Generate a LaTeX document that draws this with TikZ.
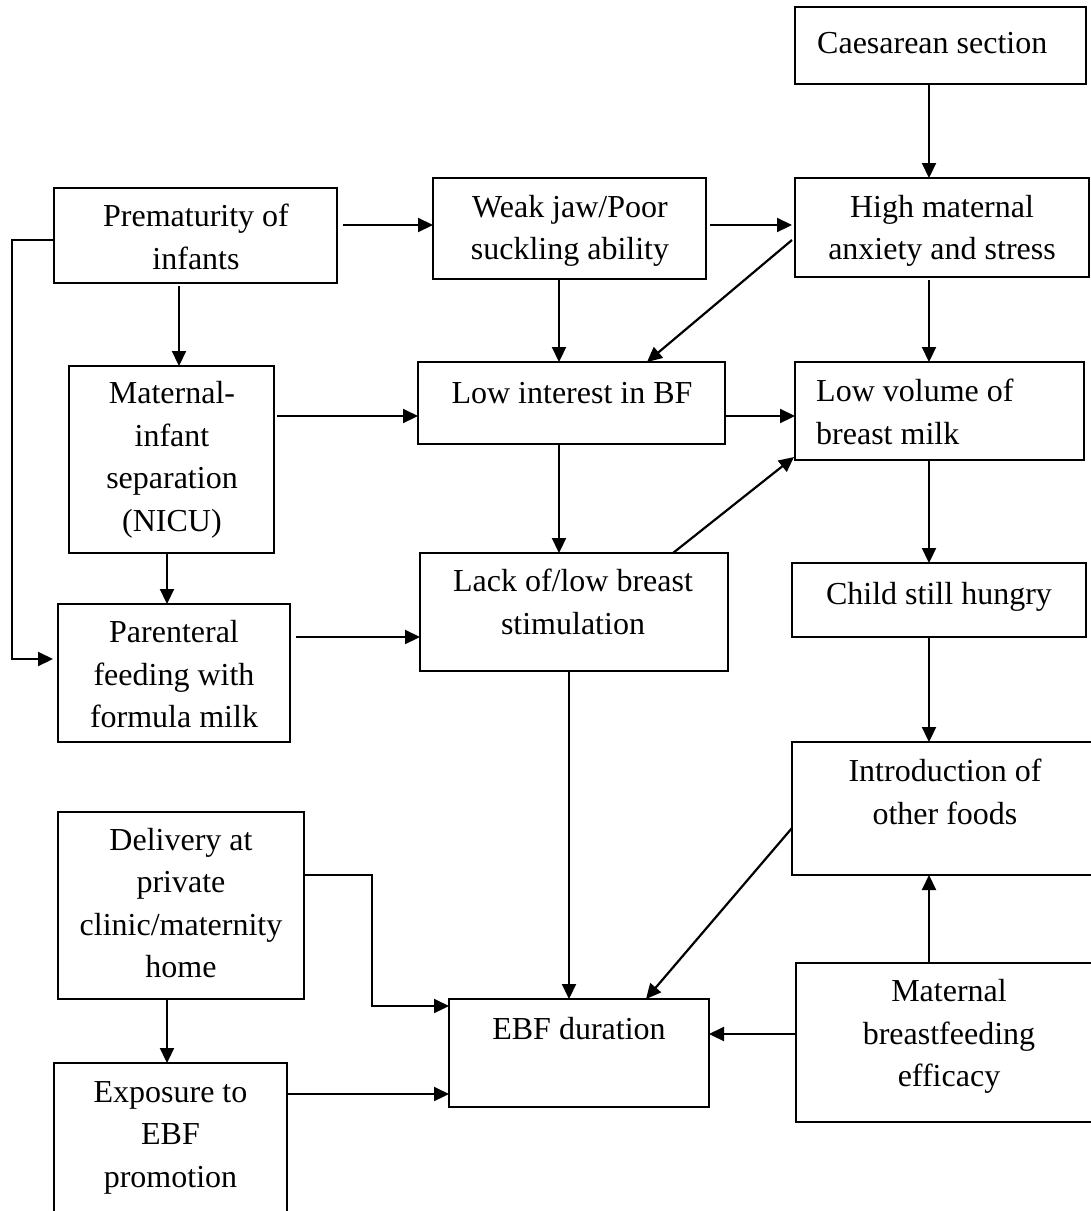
\documentclass[tikz,border=0pt]{standalone}
\usepackage{fontspec}
\setmainfont{Liberation Serif}
\usetikzlibrary{arrows.meta,calc}

\begin{document}
\begin{tikzpicture}[x=1pt,y=-1pt,
  bx/.style 2 args={draw, line width=1.5pt, inner sep=0pt, outer sep=0pt,
    minimum width=#1pt, minimum height=#2pt},
  lbl/.style={align=center, inner sep=0pt, yshift=-4pt,
    font=\fontsize{32}{42.5}\selectfont,
    execute at begin node=\strut, execute at end node=\strut},
  arr/.style={line width=2.2pt, -{Triangle[length=15pt,width=14pt]}}]

\useasboundingbox (0,0) rectangle (1091,1211);
\clip (0,0) rectangle (1091,1211);

% boxes
\node[bx={291}{77}]  (cs)       at (940.5,45.5) {};
\node[bx={283}{95}]  (prem)     at (195.5,235.5) {};
\node[bx={273}{101}] (weak)     at (569.5,228.5) {};
\node[bx={294}{99}]  (high)     at (942,227.5) {};
\node[bx={205}{187}] (sep)      at (171.5,459.5) {};
\node[bx={307}{82}]  (interest) at (571.5,403) {};
\node[bx={289}{98}]  (volume)   at (939.5,411) {};
\node[bx={294}{74}]  (hungry)   at (939,600) {};
\node[bx={232}{138}] (parent)   at (174,673) {};
\node[bx={308}{118}] (lack)     at (574,612) {};
\node[bx={306}{133}] (intro)    at (945,808.5) {};
\node[bx={246}{187}] (deliv)    at (181,905.5) {};
\node[bx={260}{108}] (ebf)      at (579,1053) {};
\node[bx={306}{159}] (effic)    at (949,1042.5) {};
\node[bx={233}{153}] (expo)     at (170.5,1139.5) {};

% texts
\node[lbl, anchor=west, align=left, yshift=2pt] (cs-t) at (817,43) {Caesarean section};
\node[lbl] (prem-t) at (196,239) {Prematurity of\\infants};
\node[lbl] (weak-t) at (570,230) {Weak jaw/Poor\\suckling ability};
\node[lbl] (high-t) at (942,230) {High maternal\\anxiety and stress};
\node[lbl] (sep-t) at (172,459) {Maternal-\\infant\\separation\\(NICU)};
\node[lbl, yshift=2pt] (interest-t) at (572,393) {Low interest in BF};
\node[lbl, anchor=west, align=left] (volume-t) at (816,414) {Low volume of\\breast milk};
\node[lbl, yshift=2pt] (hungry-t) at (939,594) {Child still hungry};
\node[lbl] (parent-t) at (174,676.5) {Parenteral\\feeding with\\formula milk};
\node[lbl] (lack-t) at (573,604) {Lack of/low breast\\stimulation};
\node[lbl] (intro-t) at (945,794) {Introduction of\\other foods};
\node[lbl] (deliv-t) at (181,905.5) {Delivery at\\private\\clinic/maternity\\home};
\node[lbl, yshift=2pt] (ebf-t) at (579,1029) {EBF duration};
\node[lbl] (effic-t) at (949,1035.5) {Maternal\\breastfeeding\\efficacy};
\node[lbl] (expo-t) at (170.5,1136.5) {Exposure to\\EBF\\promotion};

% guide lines for the connectors
\coordinate (rc) at (929,0);
\coordinate (c179) at (179,0);
\coordinate (c559) at (559,0);
\coordinate (c167) at (167,0);
\coordinate (c569) at (569,0);
\coordinate (c372) at (372,0);
\coordinate (lb) at (12,0);
\coordinate (r225) at (0,225);
\coordinate (r240) at (0,240);
\coordinate (r416) at (0,416);
\coordinate (r637) at (0,637);
\coordinate (r659) at (0,659);
\coordinate (r875) at (0,875);
\coordinate (r1006) at (0,1006);
\coordinate (r1034) at (0,1034);
\coordinate (r1094) at (0,1094);

% right column
\draw[arr] (cs.south -| rc) -- (high.north -| rc);
\draw[arr, shorten <=3pt] (high.south -| rc) -- (volume.north -| rc);
\draw[arr] (volume.south -| rc) -- (hungry.north -| rc);
\draw[arr] (hungry.south -| rc) -- (intro.north -| rc);
\draw[arr] (effic.north -| rc) -- (intro.south -| rc);

% top rows
\draw[arr, shorten <=6pt] (prem.east |- r225) -- (weak.west |- r225);
\draw[arr, shorten <=4pt] (weak.east |- r225) -- ($(high.west |- r225)+(-3,0)$);
\draw[arr] ($(high.west)+(-3,12.5)$) -- ($(interest.north)+(75.5,0)$);
\draw[arr, shorten <=3pt] (prem.south -| c179) -- (sep.north -| c179);
\draw[arr] (weak.south -| c559) -- (interest.north -| c559);
\draw[arr, shorten <=3pt] (sep.east |- r416) -- (interest.west |- r416);
\draw[arr] (interest.east |- r416) -- (volume.west |- r416);
\draw[arr] (interest.south -| c559) -- (lack.north -| c559);
\draw[arr] ($(lack.north)+(99,0)$) -- ($(volume.west)+(-1,46)$);

% left side
\draw[arr] (sep.south -| c167) -- (parent.north -| c167);
\draw[arr, shorten <=6pt] (parent.east |- r637) -- (lack.west |- r637);
\draw[arr, shorten >=5pt] (prem.west |- r240) -- (lb |- r240) -- (lb |- r659) -- (parent.west |- r659);

% towards EBF duration
\draw[arr] (lack.south -| c569) -- (ebf.north -| c569);
\draw[arr] ($(intro.west)+(0,19.5)$) -- ($(ebf.north)+(67,0)$);
\draw[arr] (effic.west |- r1034) -- (ebf.east |- r1034);
\draw[arr] (deliv.east |- r875) -- (c372 |- r875) -- (c372 |- r1006) -- (ebf.west |- r1006);
\draw[arr] (deliv.south -| c167) -- (expo.north -| c167);
\draw[arr] (expo.east |- r1094) -- (ebf.west |- r1094);
\end{tikzpicture}
\end{document}
